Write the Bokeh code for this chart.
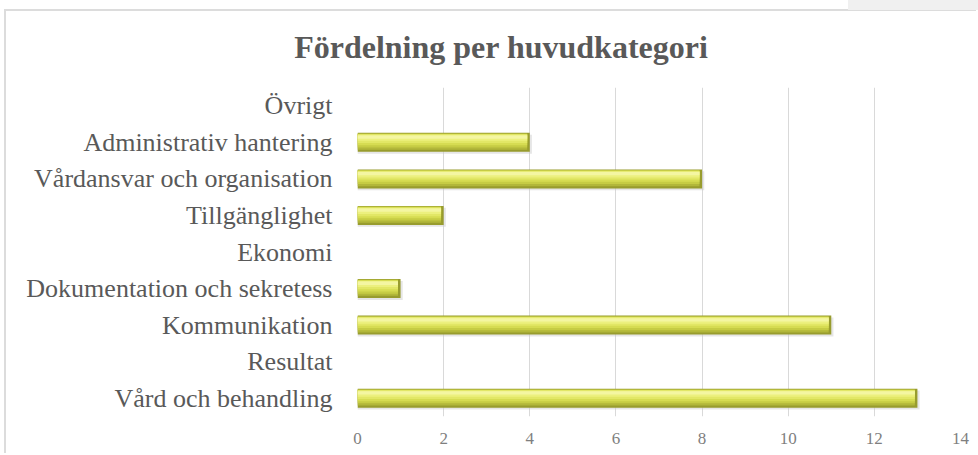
from bokeh.plotting import figure
from bokeh.models import ColumnDataSource, FactorRange, Range1d, SingleIntervalTicker, Div, InlineStyleSheet
from bokeh.layouts import column
from bokeh.transform import dodge
from bokeh.embed import file_html
from bokeh.resources import INLINE

categories = [
    "Vård och behandling",
    "Resultat",
    "Kommunikation",
    "Dokumentation och sekretess",
    "Ekonomi",
    "Tillgänglighet",
    "Vårdansvar och organisation",
    "Administrativ hantering",
    "Övrigt",
]
counts = [13, 0, 11, 1, 0, 2, 8, 4, 0]
x_ticks = [0, 2, 4, 6, 8, 10, 12, 14]
title_text = "Fördelning per huvudkategori"

inner = [max(v - 0.06, 0) for v in counts]
shadow = [v + 0.05 if v > 0 else 0 for v in counts]
src = ColumnDataSource(dict(cat=categories, val=counts, inner=inner, shadow=shadow))

W = 972
TOP = 70
H = 444 - TOP
p = figure(
    width=W, height=H,
    y_range=FactorRange(*categories, range_padding=0),
    x_range=Range1d(x_ticks[0], x_ticks[-1]),
    output_backend="svg", toolbar_location=None, title=None,
    min_border_left=351, min_border_right=18, min_border_top=76 - TOP, min_border_bottom=39,
    background_fill_color="white", border_fill_color="white",
)
p.margin = 0
p.outline_line_color = None

# bars: soft drop shadow, then a stack of bands giving a bevelled gradient
p.hbar(y=dodge("cat", -0.05, range=p.y_range), left=0, right="shadow", height=0.52, source=src,
       fill_color="#c8c8c8", fill_alpha=0.45, line_color=None)
p.hbar(y="cat", left=0, right="val", height=0.52, source=src, fill_color="#989c2e", line_color=None)
bands = [  # (bottom, top, colour) in band fractions
    (-0.20, 0.245, "#b2b73a"),
    (-0.14, 0.235, "#c6cc44"),
    (-0.08, 0.225, "#d6dc52"),
    (-0.02, 0.215, "#e2e766"),
    (0.04, 0.205, "#ecf07e"),
    (0.10, 0.19, "#f4f6a2"),
]
for lo, hi, col in bands:
    p.hbar(y=dodge("cat", (lo + hi) / 2, range=p.y_range), left=0, right="inner", height=hi - lo,
           source=src, fill_color=col, line_color=None)

# axes
p.xaxis.ticker = SingleIntervalTicker(interval=2)
p.xaxis.axis_line_color = None
p.xaxis.major_tick_line_color = None
p.xaxis.minor_tick_line_color = None
p.xaxis.major_label_standoff = 10
p.xaxis.major_label_text_font = "Liberation Serif"
p.xaxis.major_label_text_font_size = "17px"
p.xaxis.major_label_text_color = "#7f7f7f"

p.yaxis.axis_line_color = None
p.yaxis.major_tick_line_color = None
p.yaxis.minor_tick_line_color = None
p.yaxis.major_label_standoff = 19
p.yaxis.major_label_text_font = "Liberation Serif"
p.yaxis.major_label_text_font_size = "26px"
p.yaxis.major_label_text_color = "#595959"

p.xgrid.grid_line_color = "#d9d9d9"
p.xgrid.grid_line_width = 1
p.ygrid.grid_line_color = None

title = Div(
    text=f'<div style="position:absolute; left:0; top:17px; width:990px; text-align:center; '
         f'font-family:\'Liberation Serif\'; font-weight:bold; font-size:32px; line-height:38px; '
         f'color:#595959; white-space:nowrap;">{title_text}</div>',
    width=W, height=TOP, margin=0,
)

layout = column(title, p)
layout.margin = (11, 0, 0, 6)
layout.spacing = 0
layout.stylesheets = [InlineStyleSheet(css="""
:host { box-shadow: -2px -2px 0 0 #dcdcdc; background: white; }
:host::after { content: ''; position: absolute; right: 0px; top: -11px; width: 130px; height: 10px; background: #f0f0f0; }
""")]

open("out.html", "w").write(file_html(layout, INLINE))
